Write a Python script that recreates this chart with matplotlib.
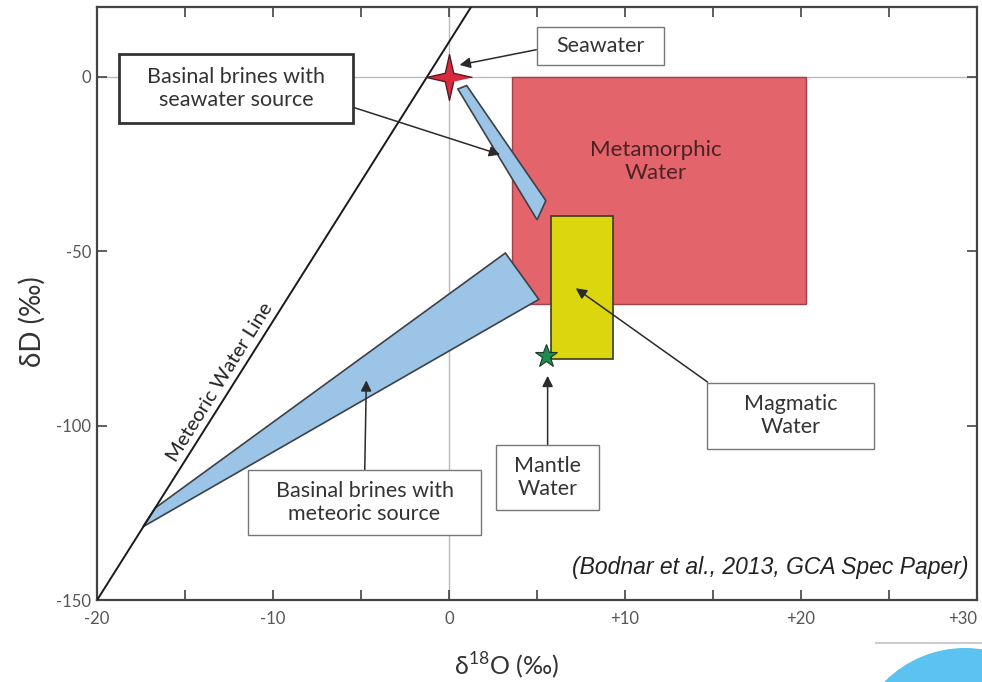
import numpy as np
import matplotlib.pyplot as plt
from matplotlib.path import Path
from matplotlib.patches import Polygon, Rectangle, Ellipse
from matplotlib.lines import Line2D

plt.rcParams['font.family'] = ['Lato', 'DejaVu Sans']

# ---- data (delta18O, deltaD in permil) ----
mwl_x = [-20.0, 1.25]
mwl_y = [-150.0, 20.0]

seawater_pt = (0.0, 0.0)
mantle_pt = (5.5, -80.0)

sw_brine_x = [0.5, 1.0, 5.5, 5.0]
sw_brine_y = [-3.5, -2.5, -35.5, -41.0]

met_brine_x = [-17.4, -16.7, 3.2, 5.1]
met_brine_y = [-129.0, -123.6, -50.5, -63.8]

metamorphic_x = (3.6, 20.3)
metamorphic_y = (-65.0, 0.0)
magmatic_x = (5.8, 9.3)
magmatic_y = (-81.0, -40.0)

x_ticks = [-20, -10, 0, 10, 20, 30]
x_tick_labels = ['-20', '-10', '0', '+10', '+20', '+30']
y_ticks = [-150, -100, -50, 0]
y_tick_labels = ['-150', '-100', '-50', '0']

# callout labels: text, label centre, arrow target
labels = ['Basinal brines with\nseawater source', 'Seawater', 'Magmatic\nWater',
          'Mantle\nWater', 'Basinal brines with\nmeteoric source']
label_xy = [(-12.1, -3.3), (8.6, 8.9), (19.4, -97.1), (5.6, -114.9), (-4.8, -122.0)]
target_xy = [(2.9, -22.3), (0.6, 3.4), (7.2, -60.6), (5.6, -85.7), (-4.7, -87.0)]

# box look per callout (pad x, pad y in font units, arrow start, edge)
box_pad = [(1.3, 0.6), (0.9, 0.42), (1.72, 0.53), (0.84, 0.5), (1.28, 0.5)]
arrow_rel = [(1.0, 0.27), (0.0, 0.5), (0.0, 0.68), (0.5, 1.0), (0.5, 1.0)]
box_edge = [('#333333', 2.0), ('#777777', 1.0), ('#777777', 1.0), ('#777777', 1.0), ('#777777', 1.0)]


def rect_box(padx, pady):
    def style(x0, y0, width, height, mutation_size):
        px, py = padx * mutation_size, pady * mutation_size
        xa, ya = x0 - px, y0 - py
        xb, yb = x0 + width + px, y0 + height + py
        return Path([(xa, ya), (xb, ya), (xb, yb), (xa, yb), (xa, ya)], closed=True)
    return style


# four-pointed star marker
ang = np.deg2rad(np.arange(0, 360, 45))
rad = np.where(np.arange(8) % 2 == 0, 1.0, 0.26)
star4 = Path(np.column_stack([rad * np.cos(ang), rad * np.sin(ang)]))

fig = plt.figure(figsize=(9.82, 6.82), dpi=100)
ax = fig.add_axes([0.0988, 0.120, 0.8962, 0.8697])

ax.set_xlim(-20, 30)
ax.set_ylim(-150, 20)

ax.axvline(0, color='#bbbbbb', lw=1, zorder=0)
ax.axhline(0, color='#bbbbbb', lw=1, zorder=0)

ax.plot(mwl_x, mwl_y, color='#1a1a1a', lw=1.4, zorder=3)
ax.text(-13.0, -87.5, 'Meteoric Water Line', rotation=58, rotation_mode='anchor',
        ha='center', va='center', fontsize=14.5, color='#222222', zorder=4)

ax.add_patch(Rectangle((metamorphic_x[0], metamorphic_y[0]), metamorphic_x[1] - metamorphic_x[0],
                       metamorphic_y[1] - metamorphic_y[0], facecolor='#e4646b',
                       edgecolor='#a04048', lw=1, zorder=1))
ax.add_patch(Rectangle((magmatic_x[0], magmatic_y[0]), magmatic_x[1] - magmatic_x[0],
                       magmatic_y[1] - magmatic_y[0], facecolor='#dbd60e',
                       edgecolor='#3a3a22', lw=1.2, zorder=2))
ax.add_patch(Polygon(np.column_stack([met_brine_x, met_brine_y]), closed=True,
                     facecolor='#9cc4e6', edgecolor='#3c4148', lw=1.2, zorder=2))
ax.add_patch(Polygon(np.column_stack([sw_brine_x, sw_brine_y]), closed=True,
                     facecolor='#9cc4e6', edgecolor='#3c4148', lw=1.2, zorder=2))

ax.text((metamorphic_x[0] + metamorphic_x[1]) / 2 - 0.2, -24.3, 'Metamorphic\nWater',
        ha='center', va='center', fontsize=16, color='#4a2226', linespacing=1.2, zorder=3)

ax.plot(*seawater_pt, marker=star4, markersize=33, color='#d82a3c',
        markeredgecolor='#5a1a22', markeredgewidth=1, zorder=5)
ax.plot(*mantle_pt, marker='*', markersize=17, color='#1d8c50',
        markeredgecolor='#1a3a2a', markeredgewidth=0.8, zorder=5)

for txt, lxy, txy, pad, rel, (ec, lw) in zip(labels, label_xy, target_xy, box_pad, arrow_rel, box_edge):
    ax.annotate(txt, xy=txy, xytext=lxy, ha='center', va='center', fontsize=15.5,
                color='#333333', linespacing=1.2, zorder=6,
                bbox=dict(boxstyle=rect_box(*pad), facecolor='white', edgecolor=ec, lw=lw),
                arrowprops=dict(arrowstyle='-|>', color='#2a2a2a', lw=1.1, mutation_scale=16,
                                shrinkA=0, shrinkB=0, relpos=rel))

ax.text(29.5, -140.6, '(Bodnar et al., 2013, GCA Spec Paper)', ha='right', va='center',
        fontsize=16.5, style='italic', family='Liberation Sans', color='#222222', zorder=6)

# axes styling
for s in ax.spines.values():
    s.set_color('#444444')
    s.set_linewidth(1.6)
ax.set_xticks(x_ticks)
ax.set_xticklabels(x_tick_labels)
ax.get_xticklabels()[-1].set_horizontalalignment('right')
ax.set_xticks(np.arange(-15, 30, 10), minor=True)
ax.set_yticks(y_ticks)
ax.set_yticklabels(y_tick_labels)
ax.tick_params(which='both', direction='in', top=True, right=True, length=7, width=1.2,
               color='#444444', labelcolor='#555555', labelsize=12, pad=8)
ax.tick_params(axis='y', pad=4)

ax.set_xlabel('δ$^{\\mathregular{18}}$O (‰)', fontsize=18, color='#333333')
ax.set_ylabel('δD (‰)', fontsize=20, color='#333333')
ax.xaxis.set_label_coords(0.465, -0.085)
ax.yaxis.set_label_coords(-0.058, 0.47)

# slide decorations at lower right
fig.add_artist(Line2D([0.892, 1.0], [1 - 643 / 682, 1 - 643 / 682], transform=fig.transFigure,
                      color='#cccccc', lw=1.5))
fig.add_artist(Ellipse((965 / 982, 1 - 761 / 682), 2 * 113 / 982, 2 * 113 / 682,
                       transform=fig.transFigure, facecolor='#5cc2f0', edgecolor='none'))

fig.savefig('out.png', dpi=100)
